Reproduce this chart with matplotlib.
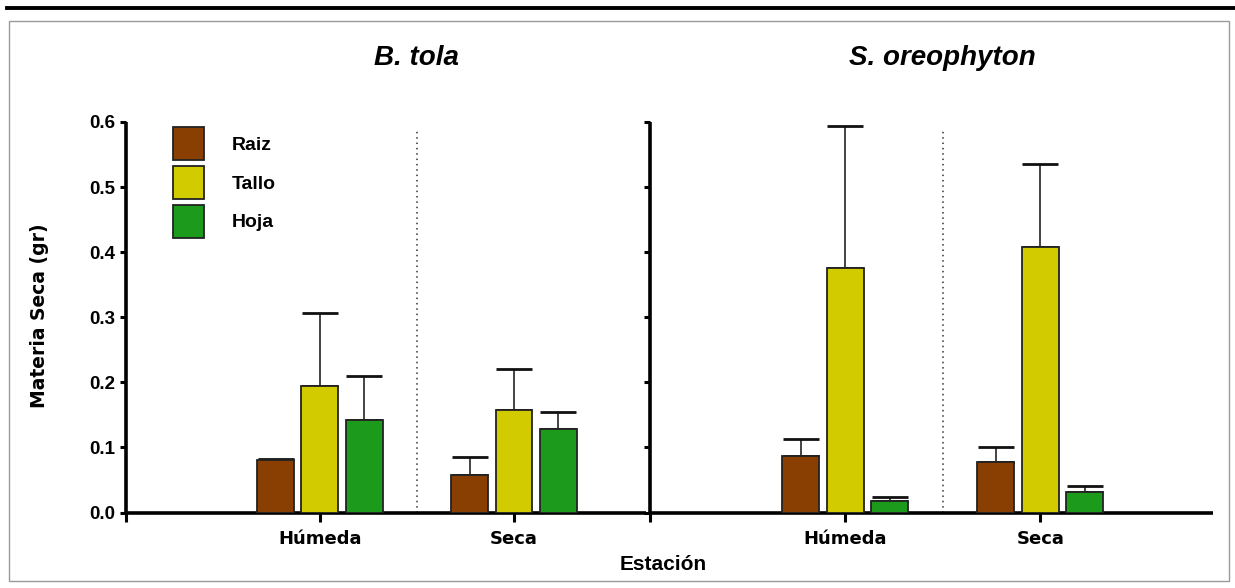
import matplotlib
matplotlib.use("Agg")
import matplotlib.pyplot as plt
import numpy as np
from matplotlib.patches import Patch, Rectangle
from matplotlib.lines import Line2D
from matplotlib.transforms import blended_transform_factory

# ---- data -------------------------------------------------------------
seasons = ["Húmeda", "Seca"]
organs = ["Raiz", "Tallo", "Hoja"]
species = ["B. tola", "S. oreophyton"]

# mean dry matter (g) per organ, one value per season
btola_raiz = [0.080, 0.057]
btola_tallo = [0.194, 0.158]
btola_hoja = [0.142, 0.129]
btola_raiz_err = [0.002, 0.029]
btola_tallo_err = [0.113, 0.062]
btola_hoja_err = [0.068, 0.025]

soreo_raiz = [0.087, 0.077]
soreo_tallo = [0.376, 0.408]
soreo_hoja = [0.018, 0.031]
soreo_raiz_err = [0.026, 0.023]
soreo_tallo_err = [0.218, 0.127]
soreo_hoja_err = [0.006, 0.009]

yticks = [0.0, 0.1, 0.2, 0.3, 0.4, 0.5, 0.6]

colors = {"Raiz": "#8a3f02", "Tallo": "#d2cb00", "Hoja": "#1c9a1c"}

# ---- figure -------------------------------------------------------------
W, H = 1235, 588
fig = plt.figure(figsize=(W / 100, H / 100), dpi=100)

ax_bottom = 1 - 512.5 / H
ax_height = (512.5 - 122) / H
axL = fig.add_axes([125.7 / W, ax_bottom, (646 - 125.7) / W, ax_height])
axR = fig.add_axes([650 / W, ax_bottom, (1213 - 650) / W, ax_height])

label_font = "Liberation Sans"
wide_font = "DejaVu Sans"

panels = [
    (axL, (btola_raiz, btola_tallo, btola_hoja),
     (btola_raiz_err, btola_tallo_err, btola_hoja_err), 2.68, True),
    (axR, (soreo_raiz, soreo_tallo, soreo_hoja),
     (soreo_raiz_err, soreo_tallo_err, soreo_hoja_err), 2.885, False),
]

x = np.arange(1, len(seasons) + 1)
offsets = [-0.228, 0.0, 0.228]
bw = 0.19

for (ax, means, errs, xmax, show_ylabels), title in zip(panels, species):
    for organ, m, e, off in zip(organs, means, errs, offsets):
        ax.bar(x + off, m, width=bw, color=colors[organ], edgecolor="#222222",
               linewidth=1.3, zorder=3)
        ax.errorbar(x + off, m, yerr=[np.zeros(len(m)), e], fmt="none",
                    ecolor="#111111", elinewidth=1.1, capsize=13.3,
                    capthick=2.0, zorder=2)
    # season separator
    ax.axvline(1.5, ymin=0, ymax=0.985, color="#333333", lw=1.1,
               linestyle=(0, (1, 2.5)), zorder=1)

    ax.set_xlim(0, xmax)
    ax.set_ylim(0, 0.6)
    ax.set_yticks(yticks)
    ax.set_xticks([0] + list(x))
    ax.set_xticklabels([""] + seasons, fontfamily=wide_font,
                       fontweight="bold", fontsize=13)
    if show_ylabels:
        ax.set_yticklabels([f"{v:.1f}" for v in yticks],
                           fontfamily=label_font, fontweight="bold",
                           fontsize=13.5)
    else:
        ax.set_yticklabels([])
    ax.tick_params(axis="y", direction="out", length=4.5, width=2.2, pad=3)
    ax.tick_params(axis="x", direction="out", length=6.5, width=2.2, pad=6)

    for side in ("top", "right"):
        ax.spines[side].set_visible(False)
    for side in ("left", "bottom"):
        ax.spines[side].set_linewidth(2.6)
        ax.spines[side].set_capstyle("butt")
    ax.set_facecolor("none")

    tr = blended_transform_factory(ax.transData, fig.transFigure)
    ax.text(1.5, 1 - 58 / H, title, transform=tr, ha="center", va="center",
            fontfamily=label_font, fontweight="bold", fontstyle="italic",
            fontsize=20)

# legend
handles = [Patch(facecolor=colors[o], edgecolor="#222222", linewidth=1.3)
           for o in organs]
leg = axL.legend(handles, organs, loc="upper left",
                 bbox_to_anchor=((173 - 125.7) / (646 - 125.7),
                                 (512.5 - 127) / (512.5 - 122)),
                 frameon=False, borderpad=0, borderaxespad=0,
                 handlelength=1.6, handleheight=2.24, labelspacing=0.3,
                 handletextpad=1.4,
                 prop={"family": label_font, "weight": "bold", "size": 14})

# axis titles
fig.text(40 / W, 1 - 316 / H, "Materia Seca (gr)", rotation=90,
         ha="center", va="center", fontfamily=wide_font, fontweight="bold",
         fontsize=13.5)
fig.text(663 / W, 1 - 565 / H, "Estación", ha="center", va="center",
         fontfamily=label_font, fontweight="bold", fontsize=15)

# page rule and frame
fig.add_artist(Line2D([7 / W, 1.0], [1 - 7.5 / H, 1 - 7.5 / H],
                      transform=fig.transFigure, color="black", lw=2.8))
fig.add_artist(Rectangle((8.7 / W, 1 - 581 / H), (1229 - 8.7) / W,
                         (581 - 21) / H, transform=fig.transFigure,
                         fill=False, edgecolor="#9a9a9a", lw=1.0))

fig.savefig("out.png", dpi=100, facecolor="white")
